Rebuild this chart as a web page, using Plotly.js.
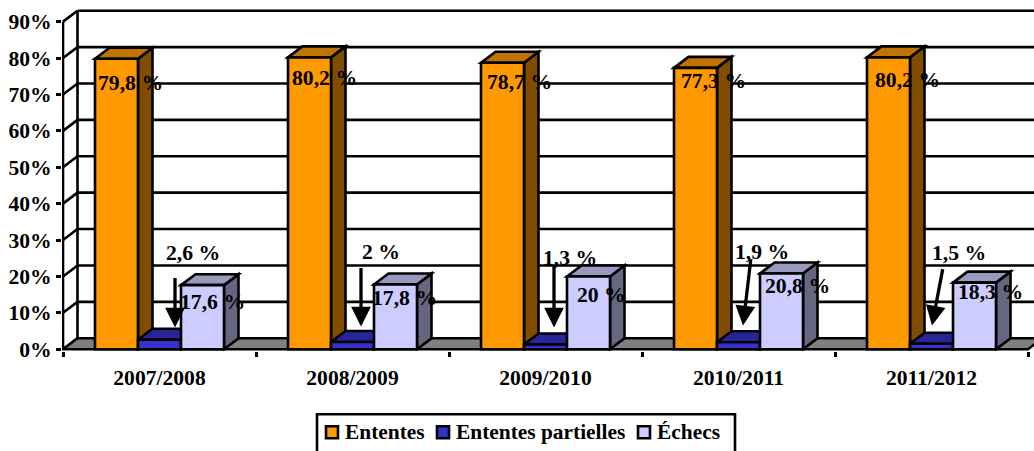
<!DOCTYPE html>
<html><head><meta charset="utf-8">
<script src="https://cdn.plot.ly/plotly-3.0.1.min.js"></script>
<style>html,body{margin:0;padding:0;background:#fff;overflow:hidden}#c{width:1034px;height:451px}</style>
</head><body><div id="c"></div>
<script>
const categories = ['2007/2008','2008/2009','2009/2010','2010/2011','2011/2012'];
const ententes = [79.8,80.2,78.7,77.3,80.2];
const partielles = [2.6,2,1.3,1.9,1.5];
const echecs = [17.6,17.8,20,20.8,18.3];
const seriesNames = ['Ententes','Ententes partielles','Échecs'];
const yTicks = [0,10,20,30,40,50,60,70,80,90];

// ---- layout constants (pixels of the 1034x451 picture) ----
const L=62,R=1034,T=8.5,B=351.5;
const catW=193,x0px=63,y0px=349.7,pxPerPct=3.65;
const depthPxX=14.5,depthPxY=11;
const dX=depthPxX/catW,dY=depthPxY/pxPerPct;
const barW=43/catW;
const LW=2.6;
const xRange=[(L-x0px)/catW-0.5,(R-x0px)/catW-0.5];
const yRange=[(y0px-B)/pxPerPct,(y0px-T)/pxPerPct];
const colors=[['#FF9900','#C07300','#804D00'],['#3333CC','#262699','#1A1A66'],['#CCCCFF','#9999BF','#666680']];
const FONT='"Liberation Serif","Times New Roman",serif';
const px=v=>(v-L)/(R-L), py=v=>(B-v)/(B-T);
const fmt=v=>String(v).replace('.',',')+' %';

const allSeries=[ententes,partielles,echecs];
const xPos=categories.map((_,i)=>i);
const xEnd=categories.length-0.5;
const xLeft=-0.5;

function poly(pts,fill,w){
  return {type:'path',xref:'x',yref:'y',layer:'below',fillcolor:fill,
    line:{color:'#000',width:w===undefined?LW:w},
    path:'M'+pts.map(p=>p[0]+' '+p[1]).join('L')+'Z'};
}
function seg(a,b,w){
  return {type:'line',xref:'x',yref:'y',layer:'below',x0:a[0],y0:a[1],x1:b[0],y1:b[1],line:{color:'#000',width:w||LW}};
}
const shapes=[];
// back wall + gridlines + left wall
yTicks.forEach(t=>{
  if(t>0) shapes.push(seg([xLeft+dX,t+dY],[xEnd+dX+1,t+dY]));
  shapes.push(seg([xLeft,t],[xLeft+dX,t+dY]));
});
shapes.push(seg([xLeft,0],[xLeft,90]));
shapes.push(seg([xLeft+dX,dY],[xLeft+dX,90+dY]));
// floor
shapes.push(poly([[xLeft,0],[xLeft+dX,dY],[xEnd+dX,dY],[xEnd,0]],'#808080'));
// 3-D faces of the bars, series by series
allSeries.forEach((vals,s)=>{
  vals.forEach((v,i)=>{
    const a=i+(s-1.5)*barW, b=a+barW;
    shapes.push(poly([[b,0],[b+dX,dY],[b+dX,v+dY],[b,v]],colors[s][2]));
    shapes.push(poly([[a,v],[a+dX,v+dY],[b+dX,v+dY],[b,v]],colors[s][1]));
  });
});

const traces=allSeries.map((vals,s)=>({
  type:'bar',name:seriesNames[s],x:xPos,y:vals,width:barW,
  marker:{color:colors[s][0],line:{color:'#000',width:LW}},hoverinfo:'x+y'
}));

// ---- manual label placement of the original chart (picture pixels) ----
const ententeLabelPx=[[130.5,83],[324,78],[519,82],[713,81],[907,80]];
const partielLabelPx=[[192.5,253],[380.5,252],[569.5,258],[761.5,252],[958.5,253]];
const echecLabelPx=[[212.5,302],[404.5,298],[601.5,295],[797,286],[990,292]];
const arrowTailPx=[[175,277],[361,267],[554,265],[751,258],[943,268]];
const arrowTipPx=[[175,328],[361,327],[554,328],[743,326],[932,326]];

const labelFont={family:FONT,size:21.7,color:'#000',weight:700};
const annotations=[];
function label(text,p){
  annotations.push({xref:'paper',yref:'paper',x:px(p[0]),y:py(p[1]),text:text,showarrow:false,
    xanchor:'center',yanchor:'middle',font:labelFont});
}
ententes.forEach((v,i)=>label(fmt(v),ententeLabelPx[i]));
echecs.forEach((v,i)=>label(fmt(v),echecLabelPx[i]));
partielles.forEach((v,i)=>{
  label(fmt(v),partielLabelPx[i]);
  annotations.push({xref:'paper',yref:'paper',x:px(arrowTipPx[i][0]),y:py(arrowTipPx[i][1]),text:'',
    showarrow:true,arrowhead:2,arrowwidth:3.3,arrowsize:1.2,arrowcolor:'#000',
    axref:'pixel',ayref:'pixel',ax:arrowTailPx[i][0]-arrowTipPx[i][0],ay:arrowTailPx[i][1]-arrowTipPx[i][1]});
});

// ---- legend box ----
const legendTextPx=[344,455,656], legendSwatchPx=[325,436,637];
const legendFont={family:FONT,size:21.4,color:'#000',weight:700};
shapes.push({type:'rect',xref:'paper',yref:'paper',layer:'above',x0:px(317),x1:px(735),y0:py(454),y1:py(415),
  fillcolor:'#fff',line:{color:'#000',width:LW}});
seriesNames.forEach((n,s)=>{
  shapes.push({type:'rect',xref:'paper',yref:'paper',layer:'above',x0:px(legendSwatchPx[s]+1),x1:px(legendSwatchPx[s]+13),
    y0:py(439),y1:py(427),fillcolor:colors[s][0],line:{color:'#000',width:LW}});
  annotations.push({xref:'paper',yref:'paper',x:px(legendTextPx[s]),y:py(433),text:n,showarrow:false,
    xanchor:'left',yanchor:'middle',xshift:-1,font:legendFont});
});

const tickFont={family:FONT,size:21.6,color:'#000',weight:700};
const layout={
  width:1034,height:451,paper_bgcolor:'#fff',plot_bgcolor:'#fff',showlegend:false,
  margin:{l:L,r:1034-R,t:T,b:451-B,pad:0},
  barmode:'group',bargap:1-3*barW,bargroupgap:0,
  xaxis:{type:'linear',range:xRange,tickmode:'array',tickvals:xPos,ticktext:categories,ticks:'',showgrid:false,zeroline:false,
    showline:false,tickfont:tickFont,ticklabelstandoff:11,automargin:false,
    minor:{tickmode:'array',tickvals:[-0.5,0.5,1.5,2.5,3.5,4.5],ticks:'outside',ticklen:5,tickwidth:LW,tickcolor:'#000',showgrid:false}},
  yaxis:{range:yRange,tickmode:'array',tickvals:yTicks,ticktext:yTicks.map(t=>t+'%'),ticks:'outside',ticklen:5,tickwidth:LW,tickcolor:'#000',
    showgrid:false,zeroline:false,showline:false,tickfont:tickFont,ticklabelstandoff:0,automargin:false},
  shapes:shapes,annotations:annotations
};
Plotly.newPlot('c',traces,layout,{displayModeBar:false,responsive:false});
</script></body></html>
